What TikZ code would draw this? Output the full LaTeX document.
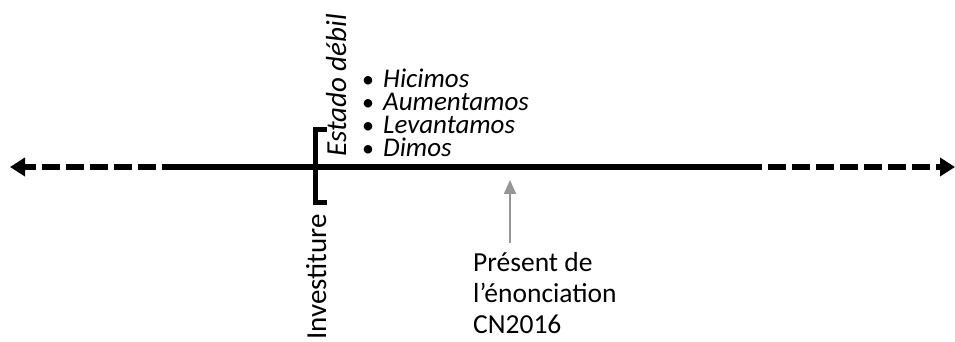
\documentclass[tikz,border=0pt]{standalone}
\usepackage{fontspec}
\setmainfont{Carlito}
\usetikzlibrary{arrows.meta}
\definecolor{arrowgray}{RGB}{150,150,150}
\newcommand{\bulletitem}[1]{\makebox[21pt][l]{\fontsize{24}{24}\selectfont\upshape •}\textit{#1}}
\tikzset{
  axisline/.style={line width=5.5pt, black},
  axisdash/.style={axisline, dash pattern=on 18pt off 6pt, dash phase=18pt, -{Triangle[length=15pt,width=18pt]}},
  bracketline/.style={line width=5pt, black, line cap=butt},
  listtext/.style={inner sep=0pt, anchor=base west},
  vlabel/.style={inner sep=0pt, anchor=base west, rotate=90},
  bottomtext/.style={inner sep=0pt, anchor=base west},
}
\begin{document}
\begin{tikzpicture}[x=1pt,y=1pt]
\useasboundingbox (0,0) rectangle (955,342);
% axis
\coordinate (leftEnd) at (10,175);
\coordinate (solidL) at (162,175);
\coordinate (solidR) at (762,175);
\coordinate (rightEnd) at (955,175);
\draw[axisline] (solidL) -- (solidR);
\draw[axisdash] (solidL) -- (leftEnd);
\draw[axisdash] (solidR) -- (rightEnd);
% bracket
\coordinate (brTop) at (327,212);
\coordinate (brBot) at (327,139);
\draw[bracketline] (brTop) -- (315,212) -- (315,139) -- (brBot);
% vertical labels
\node[vlabel, font=\fontsize{29}{29}\selectfont\itshape] (estado) at (346,185) {Estado débil};
\node[vlabel, font=\fontsize{29}{29}\selectfont] (invest) at (326,2) {Investiture};
% bullet list
\node[listtext] (list) at (362,185) {\parbox[b]{200pt}{\fontsize{27}{23.3}\selectfont\lineskiplimit=-100pt
  \bulletitem{Hicimos}\\
  \bulletitem{Aumentamos}\\
  \bulletitem{Levantamos}\\
  \bulletitem{Dimos}}};
% present
\node[bottomtext] (present) at (473,8) {\parbox[b]{200pt}{\fontsize{27.5}{31}\selectfont\lineskiplimit=-100pt
  Présent de\\
  l’énonciation\\
  CN2016}};
\coordinate (arrTail) at (510,99);
\coordinate (arrTip) at (510,162);
\draw[arrowgray, line width=2pt, -{Triangle[length=14pt,width=12pt]}] (arrTail) -- (arrTip);
\end{tikzpicture}
\end{document}
